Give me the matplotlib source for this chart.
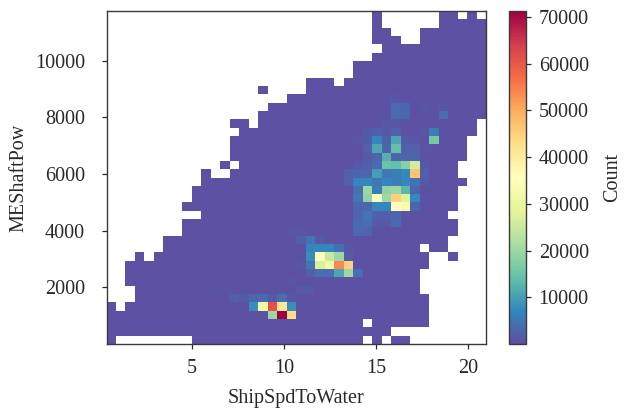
import matplotlib
matplotlib.use("Agg")
import matplotlib.pyplot as plt
import numpy as np

plt.rcParams["font.family"] = ["Liberation Serif", "DejaVu Serif"]

x_range = (0.38, 20.97)
y_range = (0.0, 11756.0)
n_bins = 40
low_count = 300
count_max = 71300

# occupied columns per row, bottom row first, as (first, last) inclusive
row_spans = [
    [(0, 0), (9, 26), (28, 28), (30, 31)],
    [(0, 29)],
    [(0, 26), (28, 33)],
    [(0, 33)],
    [(0, 0), (2, 33)],
    [(3, 33)],
    [(3, 32)],
    [(2, 32)],
    [(2, 32)],
    [(2, 33)],
    [(3, 3), (5, 33), (36, 36)],
    [(6, 32), (34, 35)],
    [(6, 35)],
    [(8, 36)],
    [(8, 36)],
    [(10, 35)],
    [(8, 36)],
    [(9, 36)],
    [(9, 36)],
    [(10, 37)],
    [(10, 10), (13, 36)],
    [(12, 12), (14, 36)],
    [(13, 37)],
    [(13, 37)],
    [(13, 37)],
    [(14, 38)],
    [(13, 14), (16, 38)],
    [(16, 39)],
    [(17, 39)],
    [(19, 39)],
    [(16, 16), (21, 39)],
    [(21, 23), (25, 39)],
    [(26, 39)],
    [(26, 39)],
    [(28, 39)],
    [(29, 39)],
    [(28, 30), (33, 39)],
    [(28, 29), (33, 39)],
    [(28, 28), (35, 39)],
    [(28, 28), (35, 36), (38, 38)],
]

# (row, col, count) for the busy cells, one list per cluster
slow_cluster = [
    (3, 17, 20000), (3, 18, 71000), (3, 19, 43000),
    (4, 15, 8000), (4, 16, 31000), (4, 17, 61000), (4, 18, 41000), (4, 19, 8000),
    (5, 13, 2000), (5, 14, 1500), (5, 15, 3000), (5, 16, 3500), (5, 17, 1500),
    (5, 18, 4000), (5, 19, 1000), (6, 11, 800), (6, 12, 800), (6, 13, 800),
    (7, 19, 1000),
]
mid_cluster = [
    (6, 20, 1500), (6, 21, 1500),
    (8, 21, 2500), (8, 22, 4000), (8, 23, 4000), (8, 24, 11000), (8, 25, 20000),
    (8, 26, 4000),
    (9, 20, 1000), (9, 21, 5000), (9, 22, 27000), (9, 23, 32000), (9, 24, 54000),
    (9, 25, 45000),
    (10, 21, 8000), (10, 22, 36000), (10, 23, 25000), (10, 24, 20000), (10, 25, 1500),
    (11, 21, 7000), (11, 22, 7000), (11, 23, 7000), (11, 24, 4000), (11, 25, 1000),
    (12, 20, 2000), (12, 21, 5000), (12, 22, 1500),
    (13, 19, 1000), (13, 20, 1000),
]
fast_cluster = [
    (13, 26, 3500), (13, 27, 3000),
    (14, 26, 3500), (14, 27, 4000), (14, 28, 1500), (14, 29, 1500), (14, 30, 3500),
    (15, 26, 3000), (15, 27, 5000), (15, 28, 2500), (15, 29, 2000), (15, 30, 3000),
    (16, 26, 3000), (16, 27, 3000), (16, 28, 7000), (16, 29, 7000), (16, 30, 36000),
    (16, 31, 33000), (16, 32, 3000),
    (17, 26, 5000), (17, 27, 19000), (17, 28, 35000), (17, 29, 20000), (17, 30, 45000),
    (17, 31, 28000), (17, 32, 7000),
    (18, 26, 4000), (18, 27, 20000), (18, 28, 6000), (18, 29, 19000), (18, 30, 20000),
    (18, 31, 13000), (18, 32, 3000),
    (19, 25, 2000), (19, 26, 7000), (19, 27, 7000), (19, 28, 5000), (19, 29, 7000),
    (19, 30, 6000), (19, 31, 7000), (19, 32, 4500), (19, 33, 1500),
    (20, 25, 2000), (20, 26, 3000), (20, 27, 3000), (20, 28, 10000), (20, 29, 5000),
    (20, 30, 6000), (20, 31, 7500), (20, 32, 47000), (20, 33, 2000),
    (21, 26, 1500), (21, 27, 2500), (21, 28, 3500), (21, 29, 15000), (21, 30, 14000),
    (21, 31, 18000), (21, 32, 26000), (21, 33, 1500),
    (22, 27, 1500), (22, 28, 3000), (22, 29, 12000), (22, 30, 3000), (22, 31, 3000),
    (22, 32, 3000),
    (23, 27, 2000), (23, 28, 11000), (23, 29, 3000), (23, 30, 14000), (23, 31, 2500),
    (23, 32, 2000), (23, 33, 800), (23, 34, 800),
    (24, 26, 1000), (24, 27, 1500), (24, 28, 7000), (24, 29, 2000), (24, 30, 11000),
    (24, 31, 1500), (24, 32, 1000), (24, 34, 16000),
    (25, 27, 1500), (25, 28, 2000), (25, 29, 1500), (25, 30, 2000), (25, 33, 1000),
    (25, 34, 6000),
    (26, 29, 1500), (26, 30, 1000),
    (27, 30, 3500), (27, 31, 3000), (27, 35, 4000),
    (28, 30, 3500), (28, 31, 3000), (28, 33, 1000), (28, 35, 1000),
    (29, 30, 1000), (30, 29, 800),
]

xticks = [5, 10, 15, 20]
yticks = [2000, 4000, 6000, 8000, 10000]
cticks = [10000, 20000, 30000, 40000, 50000, 60000, 70000]

counts = np.zeros((n_bins, n_bins))
for row, spans in enumerate(row_spans):
    for first, last in spans:
        counts[row, first:last + 1] = low_count
for row, col, value in slow_cluster + mid_cluster + fast_cluster:
    counts[row, col] = value

x_edges = np.linspace(x_range[0], x_range[1], n_bins + 1)
y_edges = np.linspace(y_range[0], y_range[1], n_bins + 1)

W, H = 624, 409
text_color = "#2b2829"
spine_color = "#3a3a3a"

fig = plt.figure(figsize=(W / 100, H / 100), dpi=100)
ax = fig.add_axes([106.5 / W, 1 - 344 / H, (486 - 106.5) / W, (344 - 11) / H])
cax = fig.add_axes([508.5 / W, 1 - 344 / H, 17 / W, (344 - 11) / H])

mesh = ax.pcolormesh(x_edges, y_edges, np.ma.masked_equal(counts, 0),
                     cmap="Spectral_r", vmin=1, vmax=count_max)
ax.set_xlim(*x_range)
ax.set_ylim(*y_range)
ax.set_xticks(xticks)
ax.set_yticks(yticks)
ax.set_xlabel("ShipSpdToWater", fontsize=14.5, color=text_color, labelpad=8.5)
ax.set_ylabel("MEShaftPow", fontsize=14.5, color=text_color, labelpad=4.5)

cbar = fig.colorbar(mesh, cax=cax)
cbar.set_ticks(cticks)
cbar.set_label("Count", fontsize=14.5, color=text_color, labelpad=10.5)

for a in (ax, cax):
    a.tick_params(labelsize=14.5, colors=text_color, length=3.5, width=0.9)
    for spine in a.spines.values():
        spine.set_color(spine_color)
        spine.set_linewidth(1.0)
ax.tick_params(axis="x", pad=7)
ax.tick_params(axis="y", pad=12)
cax.tick_params(axis="y", pad=6)

fig.savefig("out.png", dpi=100)
